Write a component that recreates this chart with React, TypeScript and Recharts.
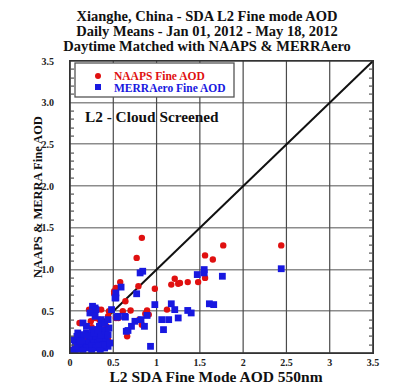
import { ReferenceLine, Scatter, ScatterChart, XAxis, YAxis } from "recharts";

// daily means, x = AERONET L2 SDA fine AOD, y = model fine AOD
const naapsPoints: [number, number][] = [
  [2.44, 1.29], [1.77, 1.29], [1.56, 1.17], [1.65, 1.12], [1.56, 0.9],
  [1.48, 0.85], [1.36, 0.85], [1.27, 0.84], [1.25, 0.83], [1.21, 0.89],
  [1.17, 0.82], [0.98, 0.77], [0.83, 1.38], [0.77, 1.14], [0.58, 0.85],
  [0.53, 0.78], [0.51, 0.71], [0.79, 0.8], [0.64, 0.62], [0.7, 0.51],
  [0.89, 0.51], [0.91, 0.46], [1.12, 0.52], [0.83, 0.34], [0.56, 0.42],
  [0.66, 0.2], [0.51, 0.74], [0.53, 0.42], [0.45, 0.5], [0.36, 0.52],
  [0.22, 0.52], [0.11, 0.36], [0.24, 0.38], [0.34, 0.4], [0.42, 0.32],
  [0.44, 0.16], [0.36, 0.12], [0.03, 0.04], [0.07, 0.08], [0.29, 0.42],
  [0.25, 0.31], [0.44, 0.44], [0.61, 0.5], [0.8, 0.4], [0.87, 0.47],
  [0.15, 0.12], [0.2, 0.18], [0.32, 0.22], [0.38, 0.26], [0.12, 0.05],
  [0.18, 0.1], [0.3, 0.17],
];

const merraPoints: [number, number][] = [
  [2.44, 1.01], [1.76, 0.92], [1.55, 1.0], [1.55, 0.96], [1.47, 0.94],
  [1.61, 0.59], [1.66, 0.58], [1.36, 0.51], [1.4, 0.48], [1.17, 0.59],
  [1.21, 0.52], [1.25, 0.42], [1.06, 0.4], [1.14, 0.4], [1.08, 0.28],
  [0.98, 0.58], [0.89, 0.45], [0.82, 0.4], [0.86, 0.32], [0.93, 0.08],
  [0.81, 0.96], [0.84, 0.98], [0.59, 0.79], [0.77, 0.71], [0.53, 0.66],
  [0.48, 0.52], [0.29, 0.54], [0.64, 0.43], [0.75, 0.38], [0.71, 0.32],
  [0.67, 0.27], [0.54, 0.43], [0.36, 0.4], [0.26, 0.56], [0.3, 0.52],
  [0.23, 0.48], [0.29, 0.44], [0.15, 0.36], [0.19, 0.32], [0.09, 0.24],
  [0.05, 0.16], [0.13, 0.2], [0.26, 0.28], [0.34, 0.32], [0.38, 0.24],
  [0.4, 0.16], [0.36, 0.12], [0.4, 0.06], [0.55, 0.44], [0.63, 0.44],
  [0.65, 0.26], [0.53, 0.72], [0.52, 0.66], [0.44, 0.08], [0.42, 0.18],
  [0.39, 0.28], [0.08, 0.2], [0.19, 0.24], [0.02, 0.01], [0.04, 0.03],
  [0.06, 0.04], [0.08, 0.06], [0.1, 0.05], [0.12, 0.08], [0.14, 0.1],
  [0.16, 0.07], [0.18, 0.12], [0.2, 0.1], [0.22, 0.14], [0.24, 0.12],
  [0.26, 0.18], [0.28, 0.15], [0.3, 0.2], [0.32, 0.12], [0.34, 0.18],
  [0.36, 0.22], [0.38, 0.1], [0.42, 0.26], [0.44, 0.22], [0.1, 0.12],
  [0.14, 0.16], [0.06, 0.08], [0.2, 0.06], [0.25, 0.08], [0.3, 0.06],
  [0.33, 0.08], [0.22, 0.2], [0.28, 0.24], [0.45, 0.3], [0.46, 0.12],
  [0.16, 0.22], [0.12, 0.14], [0.32, 0.28], [0.4, 0.36], [0.44, 0.4],
  [0.15, 0.02], [0.25, 0.02], [0.35, 0.03],
];

const majorTicks = [0, 0.5, 1, 1.5, 2, 2.5, 3, 3.5];
const minorTicks = [
  0.1, 0.2, 0.3, 0.4, 0.6, 0.7, 0.8, 0.9, 1.1, 1.2, 1.3, 1.4, 1.6, 1.7,
  1.8, 1.9, 2.1, 2.2, 2.3, 2.4, 2.6, 2.7, 2.8, 2.9, 3.1, 3.2, 3.3, 3.4,
];
const LO = 0;
const HI = 3.5;

const titleLines = [
  "Xianghe, China - SDA L2 Fine mode AOD",
  "Daily Means - Jan 01, 2012 - May 18, 2012",
  "Daytime Matched with NAAPS & MERRAero",
];

const RED = "#e01010";
const BLUE = "#1818e0";
const FONT = "'Liberation Serif', 'Times New Roman', serif";

// chart geometry; the plot box follows from the margins and axis sizes
const W = 393;
const H = 391;
const MARGIN = { top: 61, right: 20, left: 40, bottom: 18 };
const Y_AXIS_W = 30;
const X_AXIS_H = 20;
const PLOT_L = MARGIN.left + Y_AXIS_W;
const PLOT_R = W - MARGIN.right;
const PLOT_T = MARGIN.top;
const PLOT_B = H - MARGIN.bottom - X_AXIS_H;
const yPix = (v: number) =>
  Math.round(PLOT_B - ((v - LO) / (HI - LO)) * (PLOT_B - PLOT_T));

const naapsData = naapsPoints.map(([x, y]) => ({ x, y }));
const merraData = merraPoints.map(([x, y]) => ({ x, y }));

const tickStyle = { fontSize: 10, fontWeight: 700, fill: "#222", fontFamily: FONT };

export default function App() {
  return (
    <div style={{ position: "relative", width: W, height: H, background: "#fff" }}>
      <style>{"body{margin:0}"}</style>

      {/* horizontal grid under the chart, as filled 1px bands */}
      <svg width={W} height={H} style={{ position: "absolute", left: 0, top: 0 }}>
        {majorTicks.map((t) => (
          <rect key={t} x={PLOT_L} y={yPix(t) - 1} width={PLOT_R - PLOT_L} height={1.5} fill="#8c8c8c" />
        ))}
      </svg>

      <div style={{ position: "absolute", left: 0, top: 0 }}>
        <ScatterChart width={W} height={H} margin={MARGIN}>
          <XAxis
            type="number"
            dataKey="x"
            domain={[LO, HI]}
            ticks={majorTicks}
            allowDataOverflow
            height={X_AXIS_H}
            axisLine={false}
            tickLine={false}
            tickSize={4}
            tickMargin={2}
            tick={tickStyle}
            interval={0}
          />
          <YAxis
            type="number"
            dataKey="y"
            domain={[LO, HI]}
            ticks={majorTicks}
            allowDataOverflow
            width={Y_AXIS_W}
            axisLine={false}
            tickLine={false}
            tickSize={6}
            tickMargin={10}
            tick={tickStyle}
            tickFormatter={(v: number) => v.toFixed(1)}
            interval={0}
          />

          {majorTicks.map((t) => (
            <ReferenceLine key={"v" + t} x={t} ifOverflow="visible" stroke="#4a4a4a" strokeWidth={1.2} />
          ))}

          <Scatter
            data={naapsData}
            isAnimationActive={false}
            shape={(p: any) => <circle cx={p.cx} cy={p.cy} r={3.2} fill={RED} />}
          />
          <Scatter
            data={merraData}
            isAnimationActive={false}
            shape={(p: any) => (
              <rect x={p.cx - 3.4} y={p.cy - 3.4} width={6.8} height={6.8} fill={BLUE} />
            )}
          />

          {/* 1:1 line */}
          <ReferenceLine
            segment={[{ x: LO, y: LO }, { x: HI, y: HI }]}
            ifOverflow="visible"
            stroke="#111"
            strokeWidth={2}
          />
        </ScatterChart>
      </div>

      <svg
        width={W}
        height={H}
        style={{ position: "absolute", left: 0, top: 0, pointerEvents: "none" }}
        fontFamily={FONT}
        fontWeight={700}
      >
        {/* frame as four filled bands, plus inward minor ticks */}
        <g fill="#333">
          <rect x={PLOT_L - 1} y={PLOT_T - 1} width={PLOT_R - PLOT_L + 2} height={1.6} />
          <rect x={PLOT_L - 1} y={PLOT_B - 0.6} width={PLOT_R - PLOT_L + 2} height={1.6} />
          <rect x={PLOT_L - 1} y={PLOT_T - 1} width={1.6} height={PLOT_B - PLOT_T + 2} />
          <rect x={PLOT_R - 0.6} y={PLOT_T - 1} width={1.6} height={PLOT_B - PLOT_T + 2} />
        </g>
        <g fill="#555">
          {minorTicks.map((t) => (
            <rect key={"l" + t} x={PLOT_L} y={yPix(t) - 0.5} width={4} height={1.2} />
          ))}
          {minorTicks.map((t) => (
            <rect key={"r" + t} x={PLOT_R - 4} y={yPix(t) - 0.5} width={4} height={1.2} />
          ))}
        </g>

        {titleLines.map((t, i) => (
          <text key={i} x={207} y={21 + i * 15} textAnchor="middle" fontSize={14.5} fill="#111">
            {t}
          </text>
        ))}
        <text
          transform="translate(42,197) rotate(-90)"
          textAnchor="middle"
          fontSize={12.5}
          fill="#111"
        >
          NAAPS &amp; MERRA Fine AOD
        </text>
        <text x={216} y={382} textAnchor="middle" fontSize={15.5} fill="#111">
          L2 SDA Fine Mode AOD 550nm
        </text>

        <rect x={75} y={63} width={159} height={34} fill="#fff" stroke="#555" strokeWidth={1.3} />
        <circle cx={98} cy={76} r={3} fill={RED} />
        <text x={114} y={79.5} fontSize={11.5} fill={RED}>
          NAAPS Fine AOD
        </text>
        <rect x={95} y={84} width={6} height={6} fill={BLUE} />
        <text x={114} y={92} fontSize={11.5} fill={BLUE}>
          MERRAero Fine AOD
        </text>

        <text x={85} y={122} fontSize={15.3} fill="#111">
          L2 - Cloud Screened
        </text>
      </svg>
    </div>
  );
}
